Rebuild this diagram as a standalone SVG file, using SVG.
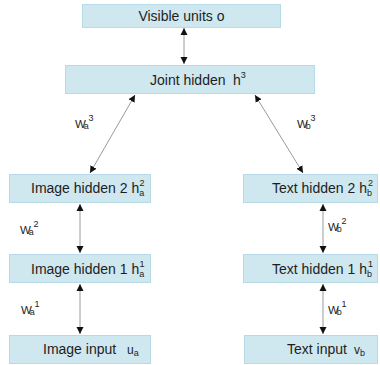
<svg xmlns="http://www.w3.org/2000/svg" width="380" height="365" viewBox="0 0 380 365">
  <style>
    .box { fill: #cfe7ef; stroke: #b6dbe6; stroke-width: 1; }
    .lbl { font-family: "Liberation Sans", Arial, sans-serif; font-size: 14px; fill: #1e1e1e; }
    .sm { font-size: 9px; }
    .w { font-family: "Liberation Sans", Arial, sans-serif; font-size: 11.5px; fill: #1e1e1e; }
    .link { stroke: #9a9a9a; stroke-width: 1; fill: none; marker-start: url(#tip); marker-end: url(#tip); }
  </style>
  <defs>
    <marker id="tip" viewBox="0 0 10 10" refX="10" refY="5" markerWidth="7" markerHeight="9" markerUnits="userSpaceOnUse" orient="auto-start-reverse">
      <path d="M0,0 L10,5 L0,10 z" fill="#111"/>
    </marker>
  </defs>

  <rect width="380" height="365" fill="#ffffff"/>

  <!-- connectors -->
  <g id="connectors">
    <line class="link" x1="184" y1="28" x2="184" y2="64"/>
    <line class="link" x1="135" y1="95" x2="90" y2="173"/>
    <line class="link" x1="255" y1="95" x2="303" y2="173"/>
    <line class="link" x1="80" y1="204" x2="80" y2="253"/>
    <line class="link" x1="80" y1="284" x2="80" y2="334"/>
    <line class="link" x1="323" y1="204" x2="323" y2="253"/>
    <line class="link" x1="323" y1="284" x2="323" y2="334"/>
  </g>

  <!-- weight labels -->
  <g id="weights">
    <text class="w" x="75" y="128">W<tspan class="sm" dx="-2" dy="1">a</tspan><tspan class="sm" dx="-0.5" dy="-8">3</tspan></text>
    <text class="w" x="297" y="128">W<tspan class="sm" dx="-2" dy="1">b</tspan><tspan class="sm" dx="-0.5" dy="-8">3</tspan></text>
    <text class="w" x="20" y="234">W<tspan class="sm" dx="-2" dy="1">a</tspan><tspan class="sm" dx="-0.5" dy="-8">2</tspan></text>
    <text class="w" x="328" y="231">W<tspan class="sm" dx="-2" dy="1">b</tspan><tspan class="sm" dx="-0.5" dy="-8">2</tspan></text>
    <text class="w" x="21" y="314">W<tspan class="sm" dx="-2" dy="1">a</tspan><tspan class="sm" dx="-0.5" dy="-8">1</tspan></text>
    <text class="w" x="328" y="314">W<tspan class="sm" dx="-2" dy="1">b</tspan><tspan class="sm" dx="-0.5" dy="-8">1</tspan></text>
  </g>

  <g id="visible">
    <rect class="box" x="82.5" y="4.5" width="198" height="23"/>
    <text class="lbl" x="181.5" y="21" text-anchor="middle">Visible units o</text>
  </g>

  <g id="joint">
    <rect class="box" x="65.5" y="65.5" width="249" height="28"/>
    <text class="lbl" x="150" y="85">Joint hidden <tspan x="233">h</tspan><tspan class="sm" dy="-7">3</tspan></text>
  </g>

  <g id="image-h2">
    <rect class="box" x="9.5" y="174.5" width="141" height="28"/>
    <text class="lbl" x="31" y="193">Image hidden 2 h<tspan class="sm" dy="3">a</tspan><tspan class="sm" x="139.5" dy="-10">2</tspan></text>
  </g>

  <g id="text-h2">
    <rect class="box" x="243.5" y="174.5" width="134" height="28"/>
    <text class="lbl" x="272" y="193">Text hidden 2 h<tspan class="sm" dy="3">b</tspan><tspan class="sm" x="368" dy="-10">2</tspan></text>
  </g>

  <g id="image-h1">
    <rect class="box" x="9.5" y="254.5" width="141" height="28"/>
    <text class="lbl" x="31" y="274">Image hidden 1 h<tspan class="sm" dy="3">a</tspan><tspan class="sm" x="139.5" dy="-10">1</tspan></text>
  </g>

  <g id="text-h1">
    <rect class="box" x="243.5" y="254.5" width="134" height="28"/>
    <text class="lbl" x="272" y="274">Text hidden 1 h<tspan class="sm" dy="3">b</tspan><tspan class="sm" x="368" dy="-10">1</tspan></text>
  </g>

  <g id="image-input">
    <rect class="box" x="9.5" y="335.5" width="141" height="28"/>
    <text class="lbl" x="43" y="354">Image input <tspan x="127" font-size="12">u</tspan><tspan class="sm" dy="2">a</tspan></text>
  </g>

  <g id="text-input">
    <rect class="box" x="244.5" y="335.5" width="133" height="28"/>
    <text class="lbl" x="287" y="354">Text input <tspan x="354" font-size="12">v</tspan><tspan class="sm" dy="2">b</tspan></text>
  </g>
</svg>
